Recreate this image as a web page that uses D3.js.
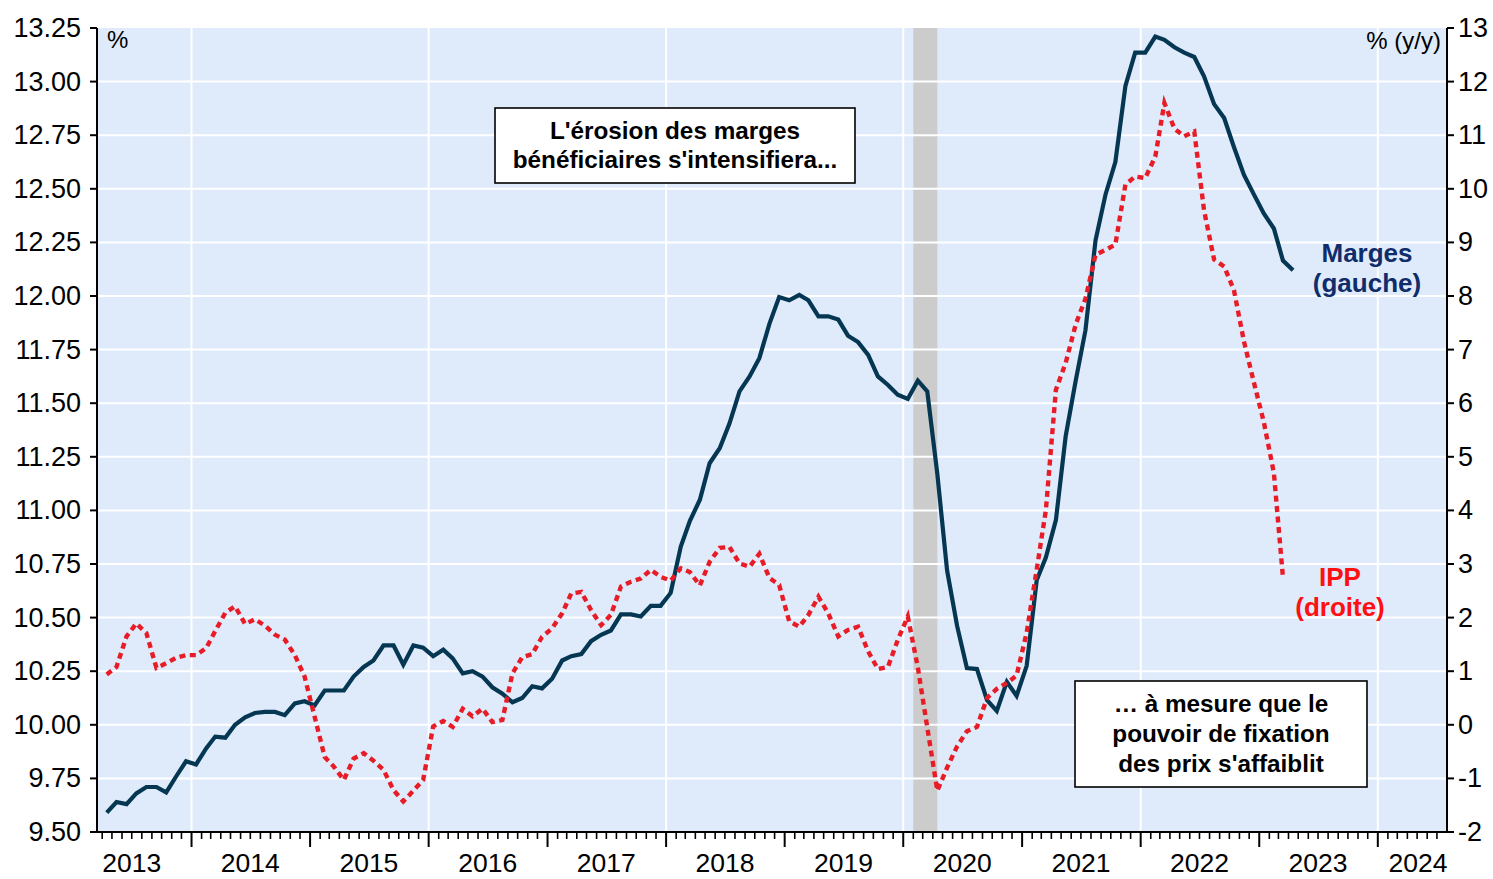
<!DOCTYPE html>
<html>
<head>
<meta charset="utf-8">
<script src="https://cdn.jsdelivr.net/npm/d3@7"></script>
<style>
  body { margin: 0; background: #ffffff; }
  svg { display: block; }
  text { font-family: Arial, "Liberation Sans", sans-serif; }
</style>
</head>
<body>
<svg id="chart" width="1493" height="879"></svg>
<script>
// Monthly series, first observation April 2013
const firstMonth = [2013, 4];

// Marges bénéficiaires, % (left axis), Apr 2013 – Apr 2023
const marges = [
  9.59, 9.64, 9.63, 9.68, 9.71, 9.71, 9.685, 9.76, 9.83, 9.815,
  9.89, 9.945, 9.94, 10.00, 10.035, 10.055, 10.06, 10.06, 10.045, 10.10,
  10.11, 10.09, 10.16, 10.16, 10.16, 10.225, 10.27, 10.30, 10.37, 10.37,
  10.28, 10.37, 10.36, 10.32, 10.35, 10.31, 10.24, 10.25, 10.225, 10.175,
  10.145, 10.105, 10.125, 10.18, 10.17, 10.215, 10.30, 10.32, 10.33, 10.39,
  10.42, 10.44, 10.515, 10.515, 10.505, 10.555, 10.555, 10.615, 10.83, 10.95,
  11.05, 11.22, 11.29, 11.405, 11.555, 11.625, 11.71, 11.87, 11.995, 11.98,
  12.005, 11.98, 11.905, 11.905, 11.89, 11.815, 11.785, 11.725, 11.625, 11.585,
  11.54, 11.52, 11.605, 11.555, 11.17, 10.72, 10.46, 10.265, 10.26, 10.115,
  10.065, 10.20, 10.135, 10.275, 10.675, 10.78, 10.955, 11.345, 11.605, 11.84,
  12.26, 12.475, 12.625, 12.98, 13.135, 13.135, 13.21, 13.195, 13.16, 13.135,
  13.115, 13.025, 12.895, 12.83, 12.695, 12.565, 12.475, 12.385, 12.315, 12.165,
  12.12
];

// IPP, % a/a (right axis), Apr 2013 – Mar 2023
const ipp = [
  0.94, 1.08, 1.65, 1.89, 1.71, 1.06, 1.15, 1.25, 1.30, 1.30,
  1.43, 1.75, 2.09, 2.21, 1.88, 1.97, 1.85, 1.68, 1.59, 1.30,
  0.90, 0.15, -0.60, -0.78, -1.03, -0.63, -0.53, -0.67, -0.84, -1.22,
  -1.43, -1.23, -1.03, -0.03, 0.07, -0.04, 0.30, 0.16, 0.30, 0.05,
  0.09, 0.96, 1.26, 1.32, 1.64, 1.80, 2.08, 2.45, 2.48, 2.14,
  1.86, 2.05, 2.58, 2.67, 2.73, 2.89, 2.76, 2.69, 2.92, 2.85,
  2.60, 3.04, 3.30, 3.32, 3.01, 2.95, 3.19, 2.74, 2.61, 1.93,
  1.83, 2.05, 2.39, 2.08, 1.65, 1.77, 1.83, 1.37, 1.04, 1.08,
  1.58, 2.02, 1.07, -0.05, -1.23, -0.80, -0.40, -0.12, -0.04, 0.50,
  0.67, 0.78, 0.92, 1.72, 2.90, 4.00, 6.25, 6.75, 7.47, 7.95,
  8.77, 8.86, 8.96, 10.08, 10.23, 10.20, 10.60, 11.60, 11.12, 10.98,
  11.07, 9.60, 8.68, 8.55, 8.11, 7.15, 6.40, 5.65, 4.70, 2.75
];

const leftTicks = [9.50, 9.75, 10.00, 10.25, 10.50, 10.75, 11.00, 11.25, 11.50,
                   11.75, 12.00, 12.25, 12.50, 12.75, 13.00, 13.25];
const rightTicks = [-2, -1, 0, 1, 2, 3, 4, 5, 6, 7, 8, 9, 10, 11, 12, 13];
const yearLabels = [2013, 2014, 2015, 2016, 2017, 2018, 2019, 2020, 2021, 2022, 2023, 2024];
const gridYears = [2014, 2016, 2018, 2020, 2022, 2024];
const recessionSpan = [[2020, 2, 1], [2020, 4, 15]];

const boxTop = ["L'érosion des marges", "bénéficiaires s'intensifiera..."];
const boxBottom = ["… à mesure que le", "pouvoir de fixation", "des prix s'affaiblit"];

// ---------------------------------------------------------------
const W = 1493, H = 879;
const M = { left: 97, right: 1447, top: 28, bottom: 832 };
const C = {
  plotBg: "#dfeafb",
  grid: "#ffffff",
  band: "#cccccc",
  marges: "#053753",
  margesLabel: "#0f2c6b",
  ipp: "#e81c26",
  ippLabel: "#ff0f0f",
  axis: "#000000"
};

const monthDate = i => new Date(firstMonth[0], firstMonth[1] - 1 + i, 15);
const ymd = a => new Date(a[0], a[1] - 1, a[2]);

const x = d3.scaleTime()
  .domain([new Date(2013, 2, 16), new Date(2024, 7, 1)])
  .range([M.left, M.right]);
const yL = d3.scaleLinear().domain([9.5, 13.25]).range([M.bottom, M.top]);
const yR = d3.scaleLinear().domain([-2, 13]).range([M.bottom, M.top]);

const svg = d3.select("#chart");

// plot background
svg.append("rect")
  .attr("x", M.left).attr("y", M.top)
  .attr("width", M.right - M.left).attr("height", M.bottom - M.top)
  .attr("fill", C.plotBg);

// recession shading
svg.append("rect")
  .attr("x", x(ymd(recessionSpan[0])))
  .attr("y", M.top)
  .attr("width", x(ymd(recessionSpan[1])) - x(ymd(recessionSpan[0])))
  .attr("height", M.bottom - M.top)
  .attr("fill", C.band);

// grid lines
const grid = svg.append("g");
grid.selectAll("line.h")
  .data(leftTicks.filter(v => v > 9.5 && v < 13.25))
  .join("line")
  .attr("class", "h")
  .attr("x1", M.left).attr("x2", M.right)
  .attr("y1", d => yL(d)).attr("y2", d => yL(d))
  .attr("stroke", C.grid).attr("stroke-width", 2);
grid.selectAll("line.v")
  .data(gridYears)
  .join("line")
  .attr("class", "v")
  .attr("x1", d => x(new Date(d, 0, 1))).attr("x2", d => x(new Date(d, 0, 1)))
  .attr("y1", M.top).attr("y2", M.bottom)
  .attr("stroke", C.grid).attr("stroke-width", 2);

// annotation boxes
function box(lines, cx, top, w, h, firstBaseline, lineGap) {
  const g = svg.append("g");
  g.append("rect")
    .attr("x", cx - w / 2).attr("y", top)
    .attr("width", w).attr("height", h)
    .attr("fill", "#ffffff").attr("stroke", "#000").attr("stroke-width", 1.6);
  g.selectAll("text").data(lines).join("text")
    .attr("x", cx)
    .attr("y", (d, i) => firstBaseline + i * lineGap)
    .attr("text-anchor", "middle")
    .attr("font-size", 24.3).attr("font-weight", "bold")
    .attr("fill", "#000")
    .text(d => d);
}
box(boxTop, 675, 108, 360, 75, 139, 28.5);
box(boxBottom, 1221, 681, 292, 106, 712, 30);

// series
const lineL = d3.line().x((d, i) => x(monthDate(i))).y(d => yL(d));
const lineR = d3.line().x((d, i) => x(monthDate(i))).y(d => yR(d));

svg.append("path")
  .datum(marges)
  .attr("d", lineL)
  .attr("fill", "none")
  .attr("stroke", C.marges)
  .attr("stroke-width", 4.2)
  .attr("stroke-linejoin", "miter");

svg.append("path")
  .datum(ipp)
  .attr("d", lineR)
  .attr("fill", "none")
  .attr("stroke", C.ipp)
  .attr("stroke-width", 4.4)
  .attr("stroke-dasharray", "6 4.5");

// axes
const axes = svg.append("g").attr("stroke", C.axis);
axes.append("line").attr("x1", M.left).attr("x2", M.left)
  .attr("y1", M.top).attr("y2", M.bottom + 1).attr("stroke-width", 2);
axes.append("line").attr("x1", M.right).attr("x2", M.right)
  .attr("y1", M.top).attr("y2", M.bottom + 1).attr("stroke-width", 2);
axes.append("line").attr("x1", M.left - 1).attr("x2", M.right + 1)
  .attr("y1", M.bottom).attr("y2", M.bottom).attr("stroke-width", 2);

// left ticks
axes.selectAll("line.lt").data(leftTicks).join("line")
  .attr("class", "lt")
  .attr("x1", M.left - 7).attr("x2", M.left)
  .attr("y1", d => yL(d)).attr("y2", d => yL(d)).attr("stroke-width", 2);
// right ticks
axes.selectAll("line.rt").data(rightTicks).join("line")
  .attr("class", "rt")
  .attr("x1", M.right).attr("x2", M.right + 7)
  .attr("y1", d => yR(d)).attr("y2", d => yR(d)).attr("stroke-width", 2);

// monthly minor ticks and yearly major ticks
const months = d3.timeMonth.range(d3.timeMonth.ceil(x.domain()[0]), x.domain()[1]);
axes.selectAll("line.mt").data(months).join("line")
  .attr("class", "mt")
  .attr("x1", d => x(d)).attr("x2", d => x(d))
  .attr("y1", M.bottom)
  .attr("y2", d => d.getMonth() === 0 ? M.bottom + 15 : M.bottom + 7)
  .attr("stroke-width", d => d.getMonth() === 0 ? 2 : 1.6);

const tickFont = 27;
svg.append("g").selectAll("text").data(leftTicks).join("text")
  .attr("x", M.left - 16).attr("y", d => yL(d))
  .attr("dy", "0.33em")
  .attr("text-anchor", "end")
  .attr("font-size", tickFont).attr("fill", "#000")
  .text(d => d3.format(".2f")(d));

svg.append("g").selectAll("text").data(rightTicks).join("text")
  .attr("x", M.right + 11).attr("y", d => yR(d))
  .attr("dy", "0.33em")
  .attr("text-anchor", "start")
  .attr("font-size", tickFont).attr("fill", "#000")
  .text(d => String(d));

svg.append("g").selectAll("text").data(yearLabels).join("text")
  .attr("x", d => Math.min(x(new Date(d, 6, 1)), M.right - 29))
  .attr("y", 872)
  .attr("text-anchor", "middle")
  .attr("font-size", 26.5).attr("fill", "#000")
  .text(d => d);

// unit labels
svg.append("text").attr("x", M.left + 10).attr("y", 48)
  .attr("font-size", 24).attr("fill", "#000").text("%");
svg.append("text").attr("x", M.right - 6).attr("y", 49)
  .attr("text-anchor", "end")
  .attr("font-size", 24).attr("fill", "#000").text("% (y/y)");

// series labels
const seriesLabel = (lines, cx, base, color) => {
  svg.append("g").selectAll("text").data(lines).join("text")
    .attr("x", cx).attr("y", (d, i) => base + i * 30)
    .attr("text-anchor", "middle")
    .attr("font-size", 26).attr("font-weight", "bold")
    .attr("fill", color)
    .text(d => d);
};
seriesLabel(["Marges", "(gauche)"], 1367, 262, C.margesLabel);
seriesLabel(["IPP", "(droite)"], 1340, 586, C.ippLabel);
</script>
</body>
</html>
